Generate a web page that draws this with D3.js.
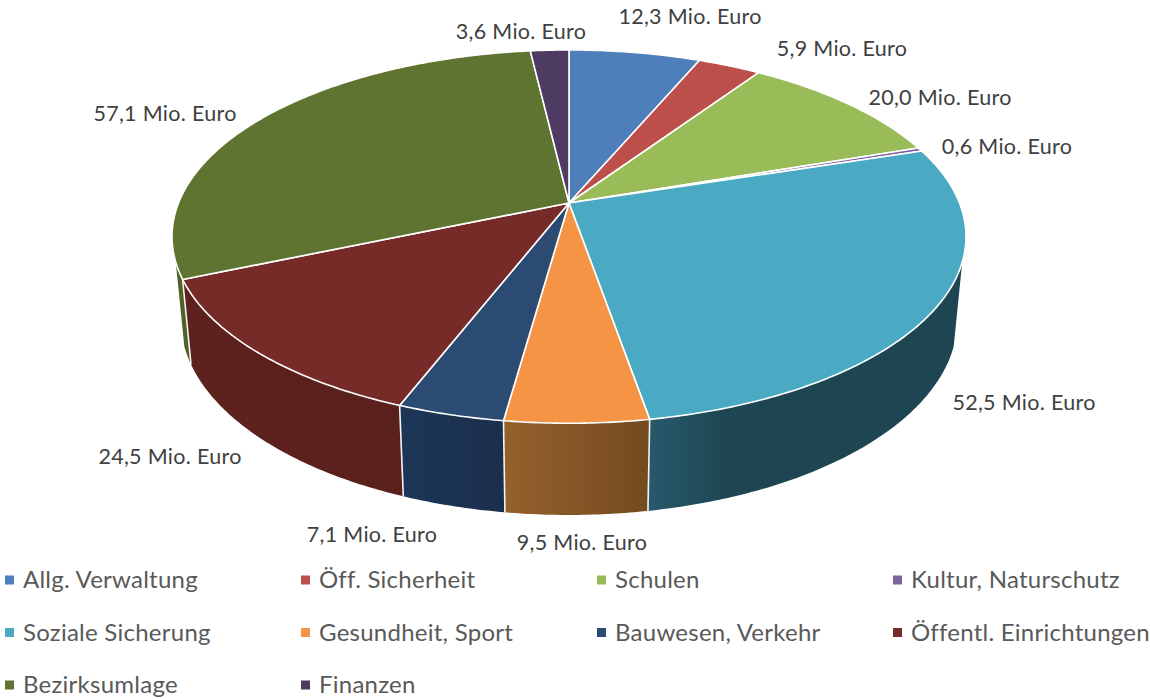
<!DOCTYPE html>
<html>
<head>
<meta charset="utf-8">
<script src="https://cdn.jsdelivr.net/npm/d3@7"></script>
<style>
  html, body { margin: 0; padding: 0; background: #fff; }
  svg { display: block; }
  text { font-family: Lato, "Open Sans", sans-serif; }
</style>
</head>
<body>
<script>
// Data
const categories = ["Allg. Verwaltung", "Öff. Sicherheit", "Schulen", "Kultur, Naturschutz",
  "Soziale Sicherung", "Gesundheit, Sport", "Bauwesen, Verkehr", "Öffentl. Einrichtungen",
  "Bezirksumlage", "Finanzen"];
const values = [12.3, 5.9, 20.0, 0.6, 52.5, 9.5, 7.1, 24.5, 57.1, 3.6];
const colors = ["#4e7fbb", "#bd4f4b", "#99bb58", "#8064a2", "#4aa9c3",
  "#f49444", "#2b4b73", "#772b29", "#5f7430", "#4d3b62"];
// side wall shading, left and right end of each gradient
const wallLeft = ["#3a5f8c", "#8e3b39", "#73893f", "#5f4a78", "#28596b",
  "#95612c", "#1d3657", "#5e211e", "#4e6227", "#392c49"];
const wallRight = ["#3a5f8c", "#8e3b39", "#73893f", "#5f4a78", "#1e4652",
  "#744a20", "#1a2f4c", "#59201c", "#4e6227", "#392c49"];

// Label centres, same order as the values
const labelX = [690, 842, 940, 1007, 1024, 582, 372, 170, 165, 521];
const labelY = [16, 48, 97, 146, 402, 542, 534, 456, 113, 31];

const width = 1150, height = 699;

// Perspective of the pie: top disc and bottom disc
const tilt = 0.18;
const top3d = { cx: 569, cy: 203, a: 390.5, b: 180.6 };
const bottom3d = { cx: 569, cy: 284.5, a: 382, b: 189 };
const wallFrom = 108 * Math.PI / 180, wallTo = 252 * Math.PI / 180;

function project(disc, angle) {
  const u = Math.sin(angle), v = Math.cos(angle);
  const w = 1 + tilt * v;
  return [disc.cx + disc.a * u / w, disc.cy - disc.b * v / w];
}

function arcPoints(disc, a0, a1) {
  const n = Math.max(2, Math.ceil((a1 - a0) / 0.01));
  return d3.range(n + 1).map(i => project(disc, a0 + (a1 - a0) * i / n));
}

const svg = d3.select("body").append("svg")
  .attr("width", width)
  .attr("height", height);

const pie = d3.pie().sort(null)(values);
const line = d3.line();

// Gradients for the side walls
const defs = svg.append("defs");
pie.forEach((d, i) => {
  const g = defs.append("linearGradient").attr("id", "wall" + i);
  g.append("stop").attr("offset", "0").attr("stop-color", wallLeft[i]);
  g.append("stop").attr("offset", i === 4 ? "0.25" : "1").attr("stop-color", wallRight[i]);
});

// Side walls, only the part facing the viewer
const walls = pie
  .map((d, i) => ({ i, a0: Math.max(d.startAngle, wallFrom), a1: Math.min(d.endAngle, wallTo) }))
  .filter(d => d.a1 > d.a0);

walls.forEach(d => {
  const pts = arcPoints(top3d, d.a0, d.a1).concat(arcPoints(bottom3d, d.a0, d.a1).reverse());
  svg.append("path")
    .attr("d", line(pts) + "Z")
    .attr("fill", `url(#wall${d.i})`);
});

// White dividers between the walls
walls.slice(1).forEach(d => {
  svg.append("path")
    .attr("d", line([project(top3d, d.a0), project(bottom3d, d.a0)]))
    .attr("stroke", "#f4f4f4")
    .attr("stroke-width", 1.6)
    .attr("fill", "none");
});

// Top of the pie
pie.forEach((d, i) => {
  const pts = [[top3d.cx, top3d.cy]].concat(arcPoints(top3d, d.startAngle, d.endAngle));
  svg.append("path")
    .attr("d", line(pts) + "Z")
    .attr("fill", colors[i])
    .attr("stroke", "#fff")
    .attr("stroke-width", 1.6)
    .attr("stroke-linejoin", "round");
});

// Value labels
const fmt = v => v.toFixed(1).replace(".", ",") + " Mio. Euro";
svg.selectAll(".label")
  .data(values)
  .join("text")
  .attr("class", "label")
  .attr("x", (d, i) => labelX[i])
  .attr("y", (d, i) => labelY[i])
  .attr("dy", "0.35em")
  .attr("text-anchor", "middle")
  .attr("font-size", 21.5)
  .attr("letter-spacing", 0.3)
  .attr("fill", "#404040")
  .text(fmt);

// Legend
const legendCol = d3.scalePoint().domain([0, 1, 2, 3]).range([5, 893]);
const legendRow = d3.scalePoint().domain([0, 1, 2]).range([580, 685]);
const legend = svg.selectAll(".legend")
  .data(categories)
  .join("g")
  .attr("class", "legend")
  .attr("transform", (d, i) => `translate(${legendCol(i % 4)},${legendRow(Math.floor(i / 4))})`);

legend.append("rect")
  .attr("y", -4.5)
  .attr("width", 9)
  .attr("height", 9)
  .attr("fill", (d, i) => colors[i]);

legend.append("text")
  .attr("x", 18)
  .attr("dy", "0.35em")
  .attr("font-size", 24)
  .attr("letter-spacing", 0.25)
  .attr("fill", "#595959")
  .text(d => d);
</script>
</body>
</html>
